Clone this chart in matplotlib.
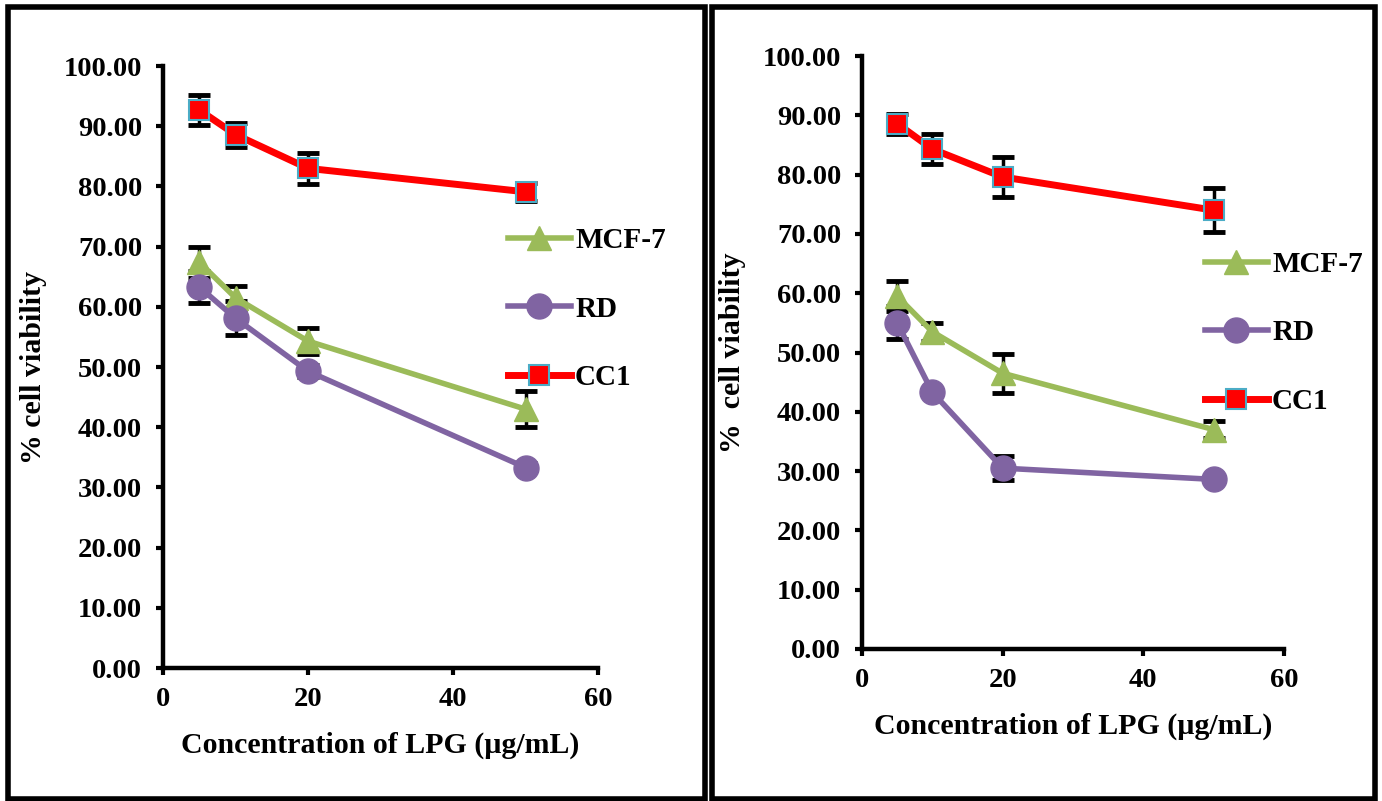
import matplotlib
matplotlib.use("Agg")
import matplotlib.pyplot as plt
from matplotlib.patches import Rectangle

conc = [5, 10, 20, 50]

# left panel
mcf7_a = [67.4, 61.5, 54.3, 43.0]
mcf7_a_err = [2.6, 2.0, 2.2, 3.0]
rd_a = [63.3, 58.1, 49.3, 33.3]
rd_a_err = [2.7, 2.8, 1.0, 0.8]
cc1_a = [92.7, 88.6, 83.0, 79.1]
cc1_a_err = [2.5, 2.0, 2.6, 1.5]

# right panel
mcf7_b = [59.5, 53.5, 46.5, 37.0]
mcf7_b_err = [2.5, 1.5, 3.3, 1.5]
rd_b = [55.0, 43.3, 30.5, 28.6]
rd_b_err = [2.8, 0.6, 2.0, 0.6]
cc1_b = [88.6, 84.3, 79.6, 74.0]
cc1_b_err = [1.7, 2.5, 3.4, 3.7]

yticks = [0, 10, 20, 30, 40, 50, 60, 70, 80, 90, 100]
xticks = [0, 20, 40, 60]

GREEN = "#9BBB59"
PURPLE = "#8064A2"
RED = "#FF0000"
EDGE = "#4BACC6"
FONT = "Liberation Serif"

plt.rcParams["font.family"] = FONT
plt.rcParams["font.weight"] = "bold"


def panel(fig, rect, mcf, mcf_err, rd, rd_err, cc, cc_err, ylabel, leg_pos):
    ax = fig.add_axes(rect)
    for vals, err in [(mcf, mcf_err), (rd, rd_err), (cc, cc_err)]:
        ax.errorbar(conc, vals, yerr=err, fmt="none", ecolor="black",
                    elinewidth=2.5, capsize=8, capthick=3.5, zorder=2)
    ax.plot(conc, mcf, color=GREEN, lw=4, marker="^", ms=17,
            mec=GREEN, mfc=GREEN, label="MCF-7", zorder=3)
    ax.plot(conc, rd, color=PURPLE, lw=4, marker="o", ms=18,
            mec=PURPLE, mfc=PURPLE, label="RD", zorder=3)
    ax.plot(conc, cc, color=RED, lw=5, marker="s", ms=14,
            mec=EDGE, mew=1.5, mfc=RED, label="CC1", zorder=4)
    ax.set_xlim(0, 60)
    ax.set_ylim(0, 100)
    ax.set_xticks(xticks)
    ax.set_yticks(yticks)
    ax.set_yticklabels(["%.2f" % v for v in yticks])
    ax.spines["top"].set_visible(False)
    ax.spines["right"].set_visible(False)
    for s in ["left", "bottom"]:
        ax.spines[s].set_linewidth(3.2)
    ax.tick_params(axis="both", length=5, width=3, labelsize=20.5)
    ax.tick_params(axis="y", pad=10)
    ax.tick_params(axis="x", pad=9)
    for lab in ax.get_xticklabels() + ax.get_yticklabels():
        lab.set_fontweight("bold")
    ax.set_xlabel("Concentration of LPG (\u00b5g/mL)", fontsize=21.5,
                  fontweight="bold", labelpad=14)
    ax.set_ylabel(ylabel, fontsize=21.5, fontweight="bold", labelpad=12)
    ax.legend(loc="center left", bbox_to_anchor=leg_pos,
              bbox_transform=fig.transFigure, frameon=False,
              borderpad=0, borderaxespad=0, handlelength=2.15,
              handletextpad=0.15, labelspacing=1.42,
              prop={"family": FONT, "weight": "bold", "size": 21})
    return ax


fig = plt.figure(figsize=(13.82, 8.01), dpi=100)
W, H = 1382.0, 801.0

# panel borders
fig.patches.append(Rectangle((8 / W, 2 / H), 697 / W, 792 / H,
                             transform=fig.transFigure, fill=False,
                             ec="black", lw=4))
fig.patches.append(Rectangle((712 / W, 2 / H), 663 / W, 792 / H,
                             transform=fig.transFigure, fill=False,
                             ec="black", lw=4))

panel(fig, [163 / W, 1 - 668 / H, 435 / W, 602 / H],
      mcf7_a, mcf7_a_err, rd_a, rd_a_err, cc1_a, cc1_a_err,
      "% cell viability", (508 / W, 1 - 309 / H))
panel(fig, [862 / W, 1 - 649 / H, 422 / W, 593 / H],
      mcf7_b, mcf7_b_err, rd_b, rd_b_err, cc1_b, cc1_b_err,
      "%  cell viability", (1205 / W, 1 - 333 / H))

fig.savefig("out.png", dpi=100)
